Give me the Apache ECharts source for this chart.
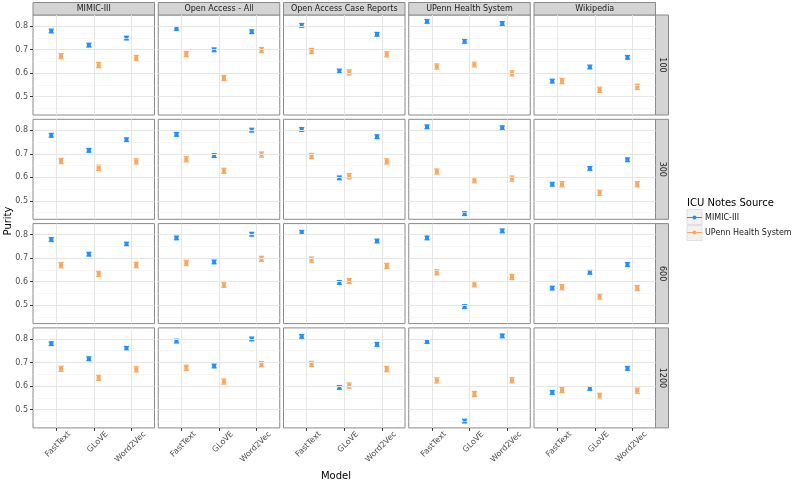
<!DOCTYPE html>
<html><head><meta charset="utf-8">
<script src="https://cdn.jsdelivr.net/npm/echarts@6/dist/echarts.min.js"></script>
<style>html,body{margin:0;padding:0;background:#fff}#c{width:795px;height:483px}</style>
</head><body><div id="c"></div><script>
const sources = ['MIMIC-III', 'Open Access - All', 'Open Access Case Reports', 'UPenn Health System', 'Wikipedia'];
const embedDims = ['100', '300', '600', '1200'];
const models = ['FastText', 'GLoVE', 'Word2Vec'];
const noteSources = ['MIMIC-III', 'UPenn Health System'];
const yTicks = [0.5, 0.6, 0.7, 0.8];
const yMinor = [0.45, 0.55, 0.65, 0.75];
const xTicks = [1, 2, 3];

// purity values: one row per corpus (sources order), columns = models
const mimic100 = [[0.779, 0.719, 0.749], [0.790, 0.699, 0.776], [0.803, 0.609, 0.765], [0.820, 0.735, 0.811], [0.566, 0.626, 0.667]];
const upenn100 = [[0.672, 0.634, 0.664], [0.681, 0.579, 0.698], [0.694, 0.603, 0.680], [0.628, 0.637, 0.599], [0.566, 0.529, 0.542]];
const mimic300 = [[0.779, 0.715, 0.760], [0.783, 0.693, 0.801], [0.804, 0.598, 0.773], [0.815, 0.446, 0.811], [0.571, 0.638, 0.675]];
const upenn300 = [[0.670, 0.641, 0.668], [0.677, 0.628, 0.697], [0.691, 0.605, 0.668], [0.625, 0.588, 0.595], [0.571, 0.535, 0.571]];
const mimic600 = [[0.779, 0.717, 0.760], [0.786, 0.684, 0.802], [0.810, 0.597, 0.773], [0.786, 0.494, 0.816], [0.573, 0.640, 0.673]];
const upenn600 = [[0.670, 0.634, 0.671], [0.680, 0.587, 0.697], [0.694, 0.603, 0.667], [0.640, 0.589, 0.620], [0.577, 0.537, 0.573]];
const mimic1200 = [[0.780, 0.716, 0.760], [0.791, 0.685, 0.800], [0.811, 0.594, 0.777], [0.789, 0.451, 0.813], [0.573, 0.590, 0.675]];
const upenn1200 = [[0.673, 0.635, 0.671], [0.677, 0.619, 0.693], [0.694, 0.602, 0.672], [0.624, 0.566, 0.624], [0.583, 0.558, 0.580]];
// error bar half-widths per corpus
const mimicErr = [0.008, 0.008, 0.008, 0.008, 0.008];
const upennErr = [0.011, 0.011, 0.011, 0.011, 0.011];

const mimicRows = [mimic100, mimic300, mimic600, mimic1200];
const upennRows = [upenn100, upenn300, upenn600, upenn1200];

const COLORS = ['#1E90FF', '#FDA65A'];
const DODGE = [-0.13, 0.13];
const LABEL_SHIFT = 0.35; // rotated x labels sit right of their tick (ggplot hjust/vjust)
const L0 = 33, CW = 121.5, CS = 125.25, T0 = 15, RH = 100, RS = 104.3;
const FONT = 'DejaVu Sans';

const grids = [], xAxes = [], yAxes = [], series = [], graphics = [];

for (let r = 0; r < 4; r++) {
  for (let c = 0; c < 5; c++) {
    const gi = r * 5 + c;
    grids.push({left: L0 + c * CS, top: T0 + r * RS, width: CW, height: RH, show: true,
      borderColor: '#8a8a8a', borderWidth: 1, backgroundColor: '#fff', containLabel: false});
    xAxes.push({type: 'value', gridIndex: gi, min: 0.385, max: 3.615,
      axisLine: {show: false}, splitLine: {show: false},
      axisTick: {show: r === 3, length: 3, customValues: xTicks, lineStyle: {color: '#333', width: 1}},
      axisLabel: {show: r === 3, customValues: xTicks.map(v => v + LABEL_SHIFT), rotate: 45, margin: 5,
        fontFamily: FONT, fontSize: 8, color: '#4d4d4d',
        formatter: v => models[Math.round(v - LABEL_SHIFT) - 1]}});
    yAxes.push({type: 'value', gridIndex: gi, min: 0.422, max: 0.847,
      axisLine: {show: false}, splitLine: {show: false},
      axisTick: {show: c === 0, length: 3, customValues: yTicks, lineStyle: {color: '#333', width: 1}},
      axisLabel: {show: c === 0, customValues: yTicks, margin: 5,
        fontFamily: FONT, fontSize: 8, color: '#4d4d4d', formatter: v => v.toFixed(1)}});
    // grid lines
    series.push({type: 'line', xAxisIndex: gi, yAxisIndex: gi, data: [], z: 1, silent: true,
      markLine: {silent: true, symbol: 'none', animation: false, label: {show: false},
        data: [
          ...yMinor.map(v => ({yAxis: v, lineStyle: {color: '#F2F2F2', width: 0.6, type: 'solid'}})),
          ...yTicks.map(v => ({yAxis: v, lineStyle: {color: '#E6E6E6', width: 1, type: 'solid'}})),
          ...xTicks.map(v => ({xAxis: v, lineStyle: {color: '#E6E6E6', width: 1, type: 'solid'}}))
        ]}});
    const rowsets = [mimicRows[r][c], upennRows[r][c]];
    const errs = [mimicErr[c], upennErr[c]];
    for (let k = 0; k < 2; k++) {
      const off = DODGE[k], col = COLORS[k];
      series.push({type: 'custom', name: noteSources[k], xAxisIndex: gi, yAxisIndex: gi, z: 3,
        itemStyle: {color: col}, animation: false,
        data: rowsets[k].map((v, i) => [xTicks[i], v, errs[k]]),
        encode: {x: 0, y: 1},
        renderItem: (params, api) => {
          const x = api.value(0) + off, y = api.value(1), e = api.value(2);
          const p = api.coord([x, y]), lo = api.coord([x, y - e]), hi = api.coord([x, y + e]);
          const hw = 2.6;
          return {type: 'group', children: [
            {type: 'line', shape: {x1: p[0], y1: lo[1], x2: p[0], y2: hi[1]}, style: {stroke: col, lineWidth: 1.2}},
            {type: 'line', shape: {x1: p[0] - hw, y1: lo[1], x2: p[0] + hw, y2: lo[1]}, style: {stroke: col, lineWidth: 1.2}},
            {type: 'line', shape: {x1: p[0] - hw, y1: hi[1], x2: p[0] + hw, y2: hi[1]}, style: {stroke: col, lineWidth: 1.2}},
            {type: 'rect', shape: {x: p[0] - 2, y: p[1] - 2, width: 4, height: 4}, style: {fill: col}}
          ]};
        }});
    }
  }
}

// facet strips
for (let c = 0; c < 5; c++) {
  graphics.push({type: 'rect', silent: true, shape: {x: L0 + c * CS, y: 2.5, width: CW, height: 12.5},
    style: {fill: '#D4D4D4', stroke: '#8a8a8a', lineWidth: 1}});
  graphics.push({type: 'text', silent: true, x: L0 + c * CS + CW / 2, y: 9,
    style: {text: sources[c], fontFamily: FONT, fontSize: 8, fill: '#1a1a1a', align: 'center', verticalAlign: 'middle'}});
}
const stripX = L0 + 4 * CS + CW;
for (let r = 0; r < 4; r++) {
  graphics.push({type: 'rect', silent: true, shape: {x: stripX, y: T0 + r * RS, width: 13, height: RH},
    style: {fill: '#D4D4D4', stroke: '#8a8a8a', lineWidth: 1}});
  graphics.push({type: 'text', silent: true, x: stripX + 6.5, y: T0 + r * RS + RH / 2, rotation: -Math.PI / 2,
    style: {text: embedDims[r], fontFamily: FONT, fontSize: 8, fill: '#1a1a1a', align: 'center', verticalAlign: 'middle'}});
}
// axis titles
graphics.push({type: 'text', silent: true, x: 8, y: 221, rotation: Math.PI / 2,
  style: {text: 'Purity', fontFamily: FONT, fontSize: 10, fill: '#000', align: 'center', verticalAlign: 'middle'}});
graphics.push({type: 'text', silent: true, x: 336, y: 476,
  style: {text: 'Model', fontFamily: FONT, fontSize: 10, fill: '#000', align: 'center', verticalAlign: 'middle'}});
// legend title and key backgrounds
graphics.push({type: 'text', silent: true, x: 687, y: 203,
  style: {text: 'ICU Notes Source', fontFamily: FONT, fontSize: 10, fill: '#000', align: 'left', verticalAlign: 'middle'}});
for (let k = 0; k < 2; k++) {
  graphics.push({type: 'rect', silent: true, z: 0, shape: {x: 687, y: 209.5 + k * 16, width: 15, height: 15},
    style: {fill: '#F2F2F2', stroke: '#D9D9D9', lineWidth: 0.8}});
}

const keyIcon = 'path://M0,1.6 L15,1.6 L15,2.4 L0,2.4 Z M7.5,0 A2,2 0 1,1 7.49,0 Z';

const option = {
  animation: false,
  backgroundColor: '#fff',
  textStyle: {fontFamily: FONT},
  grid: grids, xAxis: xAxes, yAxis: yAxes, series: series,
  legend: {orient: 'vertical', left: 687, top: 213.5, padding: 0, itemWidth: 15, itemHeight: 4, itemGap: 7,
    icon: keyIcon, data: noteSources.map(n => ({name: n, icon: keyIcon})),
    textStyle: {fontFamily: FONT, fontSize: 8, color: '#1a1a1a', padding: [0, 0, 0, -2]}, selectedMode: false},
  graphic: graphics
};
echarts.init(document.getElementById('c'), null, {renderer: 'canvas'}).setOption(option);
</script></body></html>
